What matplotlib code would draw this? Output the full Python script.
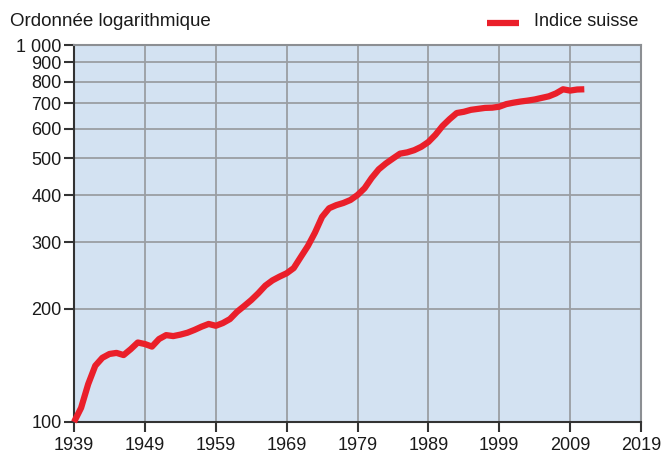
import matplotlib
matplotlib.use("Agg")
import matplotlib.pyplot as plt
from matplotlib.ticker import FixedLocator, NullLocator

plt.rcParams['font.family'] = ['Liberation Sans', 'DejaVu Sans']

years = list(range(1939, 2012))
values = [100, 109, 126, 141, 148, 151.5, 152.5, 150.5, 156, 162.5,
          161, 158.5, 166, 170, 169, 170.5, 172.5, 175.5, 179, 182,
          180, 183, 187.5, 196, 203, 210.5, 219.5, 230, 237.5, 243,
          248, 256, 274, 293, 318, 350, 369, 376, 381, 388,
          400, 417, 444, 468, 485, 500, 515, 519, 526, 537,
          553, 578, 610, 636, 660, 665, 673, 677, 681, 682,
          686, 697, 703, 708, 712, 717, 724, 731, 744, 763,
          757, 762, 763]

x_ticks = [1939, 1949, 1959, 1969, 1979, 1989, 1999, 2009, 2019]
y_ticks = [100, 200, 300, 400, 500, 600, 700, 800, 900, 1000]
y_labels = ["100", "200", "300", "400", "500", "600", "700", "800", "900", "1 000"]
series_name = "Indice suisse"
y_title = "Ordonnée logarithmique"

fig = plt.figure(figsize=(6.65, 4.59), dpi=100)
ax = fig.add_axes([74/665, 37/459, 567/665, 377/459])
ax.set_facecolor('#d3e2f2')

ax.set_yscale('log')
ax.set_xlim(1939, 2019)
ax.set_ylim(100, 1000)
ax.yaxis.set_major_locator(FixedLocator(y_ticks))
ax.yaxis.set_minor_locator(NullLocator())
ax.set_yticklabels(y_labels)
ax.set_xticks(x_ticks)
ax.set_xticklabels([str(t) for t in x_ticks])

ax.grid(True, color='#9a9ea3', linewidth=1.3, zorder=1)
ax.set_axisbelow(True)

line, = ax.plot(years, values, color='#ea1f2a', linewidth=4.5,
                solid_capstyle='butt', solid_joinstyle='round', zorder=3,
                clip_on=False)

for s in ['top', 'right']:
    ax.spines[s].set_color('#8c8f93')
    ax.spines[s].set_linewidth(1.5)
for s in ['left', 'bottom']:
    ax.spines[s].set_color('#333333')
    ax.spines[s].set_linewidth(1.5)

ax.tick_params(axis='both', which='major', labelsize=13, color='#333333',
               labelcolor='#1a1a1a', width=1.5, length=7)
ax.tick_params(axis='x', pad=4)
ax.tick_params(axis='y', pad=2)

fig.text(10/665, 1 - 21/459, y_title, fontsize=13.5, color='#1a1a1a',
         ha='left', va='center')

fig.lines.append(plt.Line2D([487/665, 519/665], [1 - 22.5/459, 1 - 22.5/459],
                            transform=fig.transFigure, color='#ea1f2a',
                            linewidth=4.5, solid_capstyle='butt'))
fig.text(534/665, 1 - 22/459, series_name, fontsize=13, color='#1a1a1a',
         ha='left', va='center')

fig.savefig('out.png', dpi=100)
